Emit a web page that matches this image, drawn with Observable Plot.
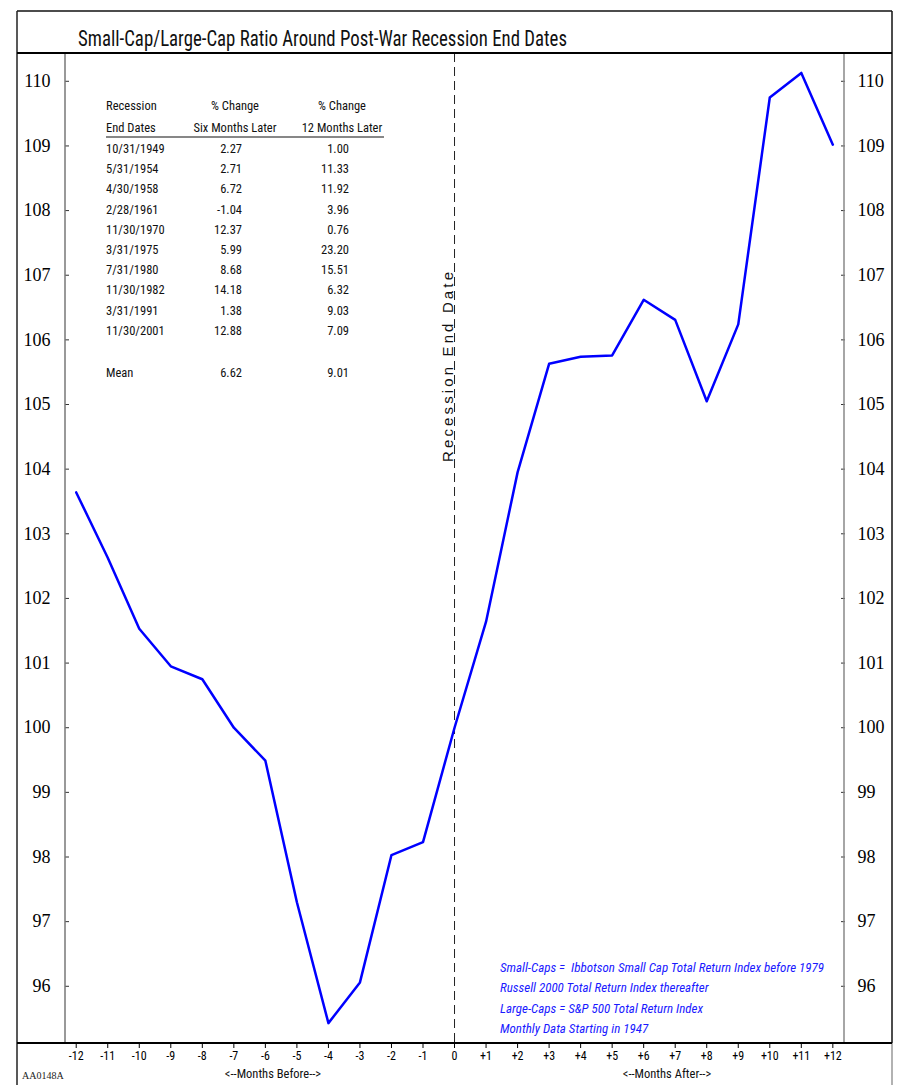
<!DOCTYPE html>
<html><head><meta charset="utf-8">
<script src="https://cdn.jsdelivr.net/npm/d3@7"></script>
<script src="https://cdn.jsdelivr.net/npm/@observablehq/plot@0.6"></script>
<style>
body{margin:0;background:#fff;}
svg text{white-space:pre;}
</style>
</head><body><div id="chart"></div>
<script>
// ---- data ----
const months = [-12,-11,-10,-9,-8,-7,-6,-5,-4,-3,-2,-1,0,1,2,3,4,5,6,7,8,9,10,11,12];
const ratio = [103.64,102.63,101.53,100.95,100.75,100.0,99.49,97.30,95.43,96.06,98.03,98.23,100.0,
               101.64,103.95,105.63,105.74,105.76,106.62,106.31,105.05,106.24,109.75,110.13,109.02];
const yTicks = [96,97,98,99,100,101,102,103,104,105,106,107,108,109,110];
const recessionDates = ["10/31/1949","5/31/1954","4/30/1958","2/28/1961","11/30/1970","3/31/1975","7/31/1980","11/30/1982","3/31/1991","11/30/2001"];
const sixMonthChange = ["2.27","2.71","6.72","-1.04","12.37","5.99","8.68","14.18","1.38","12.88"];
const twelveMonthChange = ["1.00","11.33","11.92","3.96","0.76","23.20","15.51","6.32","9.03","7.09"];
const meanRow = ["Mean","6.62","9.01"];
const tableHeaders = [["Recession","End Dates"],["% Change","Six Months Later"],["% Change","12 Months Later"]];
const titleText = "Small-Cap/Large-Cap Ratio Around Post-War Recession End Dates";
const notes = ["Small-Caps =  Ibbotson Small Cap Total Return Index before 1979",
               "Russell 2000 Total Return Index thereafter",
               "Large-Caps = S&P 500 Total Return Index",
               "Monthly Data Starting in 1947"];
const vlineLabel = "Recession End Date";
const xTitleBefore = "<--Months Before-->";
const xTitleAfter = "<--Months After-->";
const codeLabel = "AA0148A";

// ---- layout ----
const NARROW = '"Liberation Sans Narrow","Arial Narrow","Helvetica Narrow","Roboto Condensed",sans-serif';
const SERIF = '"Liberation Serif","Times New Roman",serif';
const W = 899, H = 1085;
const PL = 65, PR = 844, PT = 53, PB = 1043;
const FL = 17, FR = 892, FT = 11;

const chart = Plot.plot({
  width: W, height: H,
  marginLeft: PL, marginRight: W - PR, marginTop: PT, marginBottom: H - PB,
  x: {domain: [-12.34, 12.37]},
  y: {domain: [95.115, 110.43]},
  style: {background: "white", fontFamily: NARROW, overflow: "visible"},
  marks: [
    Plot.ruleX([0], {stroke: "#222", strokeWidth: 1, strokeDasharray: "9,5"}),
    Plot.axisY({anchor: "left", ticks: yTicks, tickSize: -4, tickPadding: 19, tickFormat: d => String(d),
                fontFamily: SERIF, fontSize: 18, label: null, stroke: "#333"}),
    Plot.axisY({anchor: "right", ticks: yTicks, tickSize: -4, tickPadding: 17, tickFormat: d => String(d),
                fontFamily: SERIF, fontSize: 18, label: null, stroke: "#333"}),
    Plot.axisX({anchor: "bottom", ticks: months, tickSize: 5, tickPadding: 3,
                tickFormat: d => d > 0 ? "+" + d : String(d),
                fontFamily: NARROW, fontSize: 12, label: null}),
    Plot.lineY(ratio, {x: (d, i) => months[i], y: d => d, stroke: "#0000ff", strokeWidth: 2.5})
  ]
});
document.getElementById("chart").appendChild(chart);

const svg = d3.select(chart);
const xs = chart.scale("x");
const g = svg.append("g").attr("text-anchor", "start");

// frame lines
const line = (x1,y1,x2,y2,stroke,w) => g.append("line").attr("x1",x1).attr("y1",y1).attr("x2",x2).attr("y2",y2)
  .attr("stroke",stroke).attr("stroke-width",w);
line(PL, PT, PL, PB, "#777", 1.5);
line(PR, PT, PR, PB, "#888", 1.5);
line(FL, FT, FR, FT, "#111", 1.5);
line(FL, FT, FL, H, "#222", 1.5);
line(FR, FT, FR, PB, "#111", 1.5);
line(FR, PB, FR, H, "#999", 1.5);
line(FL, PT, FR, PT, "#000", 2);
line(FL, PB, FR, PB, "#000", 2);

// title
g.append("text").attr("x", 78).attr("y", 46).attr("text-anchor", "start").attr("font-family", NARROW).attr("font-size", 22)
  .attr("textLength", 489).attr("lengthAdjust", "spacingAndGlyphs").attr("fill", "#111").text(titleText);

// vertical line label
const x0 = xs.apply(0);
g.append("text").attr("transform", `translate(${x0 - 1.5},367) rotate(-90)`).attr("text-anchor", "middle")
  .attr("font-family", '"Liberation Sans",Arial,sans-serif').attr("font-size", 15)
  .attr("textLength", 190).attr("lengthAdjust", "spacing").attr("fill", "#111").text(vlineLabel);

// table
const tg = g.append("g").attr("font-family", NARROW).attr("font-size", 12.5).attr("fill", "#111");
const colLeft = 106, col2Right = 242, col3Right = 349, col2Mid = 235, col3Mid = 342;
const txt = (x, y, s, anchor) => tg.append("text").attr("x", x).attr("y", y).attr("text-anchor", anchor).text(s);
txt(colLeft, 110, tableHeaders[0][0], "start");
txt(colLeft, 132, tableHeaders[0][1], "start");
txt(col2Mid, 110, tableHeaders[1][0], "middle");
txt(col2Mid, 132, tableHeaders[1][1], "middle");
txt(col3Mid, 110, tableHeaders[2][0], "middle");
txt(col3Mid, 132, tableHeaders[2][1], "middle");
tg.append("line").attr("x1", colLeft).attr("x2", 384).attr("y1", 137).attr("y2", 137).attr("stroke", "#111").attr("stroke-width", 1.2);
recessionDates.forEach((d, i) => {
  const y = 153 + i * 20.2;
  txt(colLeft, y, d, "start");
  txt(col2Right, y, sixMonthChange[i], "end");
  txt(col3Right, y, twelveMonthChange[i], "end");
});
txt(colLeft, 377, meanRow[0], "start");
txt(col2Right, 377, meanRow[1], "end");
txt(col3Right, 377, meanRow[2], "end");

// notes
notes.forEach((t, i) => {
  g.append("text").attr("x", 500).attr("y", 972 + i * 20.3).attr("text-anchor", "start").attr("font-family", NARROW)
    .attr("font-style", "italic").attr("font-size", 13).attr("fill", "#1a1aff").text(t);
});

// axis titles
g.append("text").attr("x", 273).attr("y", 1078).attr("text-anchor", "middle").attr("font-family", NARROW)
  .attr("font-size", 12.5).attr("fill", "#111").text(xTitleBefore);
g.append("text").attr("x", 667).attr("y", 1078).attr("text-anchor", "middle").attr("font-family", NARROW)
  .attr("font-size", 12.5).attr("fill", "#111").text(xTitleAfter);
g.append("text").attr("x", 22).attr("y", 1079).attr("text-anchor", "start").attr("font-family", SERIF)
  .attr("font-size", 10).attr("fill", "#222").text(codeLabel);
</script>
</body></html>
